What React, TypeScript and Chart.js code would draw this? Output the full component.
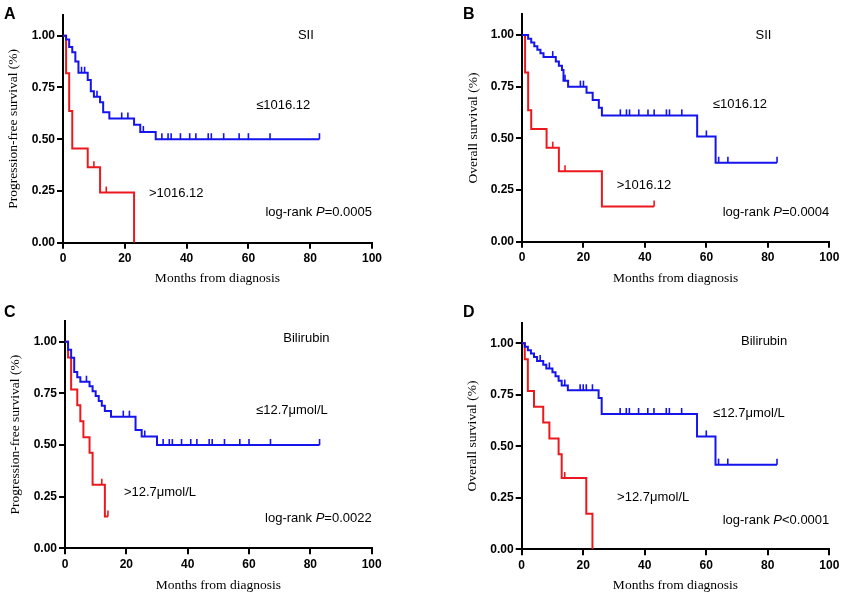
import { useEffect, useRef } from "react";
import { Chart, registerables } from "chart.js";

Chart.register(...registerables);

const xTicks = [0, 20, 40, 60, 80, 100];
const yTicks = [0, 0.25, 0.5, 0.75, 1.0];

// A: progression-free survival, SII
const pfsSiiLowTimes = [1, 2, 3, 4, 5, 8, 9, 10, 12, 13, 15, 23, 25, 30];
const pfsSiiLowSurv = [0.982, 0.946, 0.92, 0.875, 0.821, 0.786, 0.732, 0.705, 0.679, 0.63, 0.6, 0.57, 0.535, 0.5];
const pfsSiiLowCensored = [6, 7, 11, 19, 21, 26, 32, 34, 35, 38, 41, 43, 47, 48, 52, 57, 60, 67, 83];
const pfsSiiHighTimes = [1, 2, 3, 8, 12, 23];
const pfsSiiHighSurv = [0.818, 0.636, 0.455, 0.364, 0.242, 0];
const pfsSiiHighCensored = [10, 14];

// B: overall survival, SII
const osSiiLowTimes = [2, 3, 4, 5, 6, 7, 11, 12, 13, 13.5, 15, 21, 23, 25, 26, 57, 63];
const osSiiLowSurv = [0.982, 0.964, 0.946, 0.929, 0.911, 0.893, 0.872, 0.851, 0.83, 0.778, 0.75, 0.72, 0.685, 0.648, 0.611, 0.509, 0.382];
const osSiiLowCensored = [10, 14, 19, 20, 32, 34, 35, 38, 41, 43, 47, 48, 52, 60, 64, 67, 83];
const osSiiHighTimes = [1, 2, 3, 8, 12, 26];
const osSiiHighSurv = [0.818, 0.636, 0.545, 0.455, 0.341, 0.17];
const osSiiHighCensored = [10, 14, 43];

// C: progression-free survival, bilirubin
const pfsBilLowTimes = [1, 2, 3, 4, 5, 8, 9, 10, 11, 12, 13, 15, 23, 25, 30];
const pfsBilLowSurv = [0.961, 0.922, 0.853, 0.828, 0.806, 0.784, 0.76, 0.737, 0.713, 0.69, 0.664, 0.637, 0.573, 0.541, 0.5];
const pfsBilLowCensored = [7, 19, 21, 26, 32, 34, 35, 38, 41, 43, 47, 48, 52, 57, 60, 67, 83];
const pfsBilHighTimes = [1, 2, 4, 5, 6, 8, 9, 13];
const pfsBilHighSurv = [0.923, 0.769, 0.692, 0.615, 0.538, 0.462, 0.308, 0.154];
const pfsBilHighCensored = [12, 14];

// D: overall survival, bilirubin
const osBilLowTimes = [1, 2, 3, 4, 5, 7, 8, 10, 11, 12, 13, 15, 25, 26, 57, 63];
const osBilLowSurv = [0.983, 0.966, 0.95, 0.933, 0.914, 0.896, 0.878, 0.86, 0.84, 0.818, 0.795, 0.772, 0.734, 0.657, 0.548, 0.411];
const osBilLowCensored = [6, 9, 14, 19, 20, 21, 23, 32, 34, 35, 38, 41, 43, 47, 48, 52, 60, 64, 67, 83];
const osBilHighTimes = [1, 2, 4, 7, 9, 12, 13, 21, 23];
const osBilHighSurv = [0.923, 0.769, 0.692, 0.615, 0.538, 0.462, 0.346, 0.173, 0];
const osBilHighCensored = [14];

const pValues = ["=0.0005", "=0.0004", "=0.0022", "<0.0001"];

const BLUE = "rgb(20,20,235)";
const RED = "rgb(235,25,30)";
const SANS = "'Liberation Sans', Arial, sans-serif";
const SERIF = "'Liberation Serif', 'Times New Roman', serif";

type Curve = { times: number[]; surv: number[]; censored: number[]; end: number; color: string };
type Note = { text: string; x: number; y: number; align: CanvasTextAlign; p?: string };
type Panel = {
  letter: string;
  yTitle: string;
  curves: Curve[];
  notes: Note[];
  left: number;
  top: number;
  w: number;
  h: number;
  pad: { left: number; right: number; top: number; bottom: number };
  yWidth: number;
  xHeight: number;
};

function survivalAt(c: Curve, t: number) {
  let s = 1;
  c.times.forEach((tt, i) => {
    if (tt <= t) s = c.surv[i];
  });
  return s;
}

function curvePoints(c: Curve) {
  const pts = [{ x: 0, y: 1 }, ...c.times.map((t, i) => ({ x: t, y: c.surv[i] }))];
  const last = pts[pts.length - 1];
  if (c.end > last.x) pts.push({ x: c.end, y: last.y });
  return pts;
}

const panels: Panel[] = [
  {
    letter: "A",
    yTitle: "Progression-free survival (%)",
    curves: [
      { times: pfsSiiLowTimes, surv: pfsSiiLowSurv, censored: pfsSiiLowCensored, end: 83, color: BLUE },
      { times: pfsSiiHighTimes, surv: pfsSiiHighSurv, censored: pfsSiiHighCensored, end: 23, color: RED }
    ],
    notes: [
      { text: "SII", x: 78.6, y: 1.0, align: "center" },
      { text: "≤1016.12", x: 62.5, y: 0.665, align: "left" },
      { text: ">1016.12", x: 27.8, y: 0.24, align: "left" },
      { text: "log-rank ", x: 100, y: 0.148, align: "right", p: pValues[0] }
    ],
    left: 0, top: 0, w: 421, h: 300,
    pad: { left: 4.9, right: 49, top: 15, bottom: 13.9 },
    yWidth: 58.1, xHeight: 43.4
  },
  {
    letter: "B",
    yTitle: "Overall survival (%)",
    curves: [
      { times: osSiiLowTimes, surv: osSiiLowSurv, censored: osSiiLowCensored, end: 83, color: BLUE },
      { times: osSiiHighTimes, surv: osSiiHighSurv, censored: osSiiHighCensored, end: 43, color: RED }
    ],
    notes: [
      { text: "SII", x: 78.6, y: 1.0, align: "center" },
      { text: "≤1016.12", x: 62.1, y: 0.666, align: "left" },
      { text: ">1016.12", x: 30.8, y: 0.27, align: "left" },
      { text: "log-rank ", x: 100, y: 0.144, align: "right", p: pValues[1] }
    ],
    left: 421, top: 0, w: 422, h: 300,
    pad: { left: 43.9, right: 13.7, top: 14.3, bottom: 13.9 },
    yWidth: 57.1, xHeight: 44.4
  },
  {
    letter: "C",
    yTitle: "Progression-free survival (%)",
    curves: [
      { times: pfsBilLowTimes, surv: pfsBilLowSurv, censored: pfsBilLowCensored, end: 83, color: BLUE },
      { times: pfsBilHighTimes, surv: pfsBilHighSurv, censored: pfsBilHighCensored, end: 14, color: RED }
    ],
    notes: [
      { text: "Bilirubin", x: 78.7, y: 1.018, align: "center" },
      { text: "≤12.7μmol/L", x: 62.3, y: 0.668, align: "left" },
      { text: ">12.7μmol/L", x: 19.2, y: 0.268, align: "left" },
      { text: "log-rank ", x: 100, y: 0.147, align: "right", p: pValues[2] }
    ],
    left: 0, top: 300, w: 421, h: 300,
    pad: { left: 6.9, right: 49.3, top: 21, bottom: 6.9 },
    yWidth: 58.1, xHeight: 44.8
  },
  {
    letter: "D",
    yTitle: "Overall survival (%)",
    curves: [
      { times: osBilLowTimes, surv: osBilLowSurv, censored: osBilLowCensored, end: 83, color: BLUE },
      { times: osBilHighTimes, surv: osBilHighSurv, censored: osBilHighCensored, end: 23, color: RED }
    ],
    notes: [
      { text: "Bilirubin", x: 78.8, y: 1.01, align: "center" },
      { text: "≤12.7μmol/L", x: 62.2, y: 0.662, align: "left" },
      { text: ">12.7μmol/L", x: 31, y: 0.254, align: "left" },
      { text: "log-rank ", x: 100, y: 0.14, align: "right", p: pValues[3] }
    ],
    left: 421, top: 300, w: 422, h: 300,
    pad: { left: 42.9, right: 13.7, top: 22.7, bottom: 6.9 },
    yWidth: 57.8, xHeight: 43.8
  }
];

function KmPanel({ panel }: { panel: Panel }) {
  const canvasRef = useRef<HTMLCanvasElement>(null);

  useEffect(() => {
    if (!canvasRef.current) return;

    // censor marks, annotations and the panel letter
    const extras = {
      id: "kmExtras",
      afterDatasetsDraw(chart: Chart) {
        const { ctx } = chart;
        const xs = chart.scales.x;
        const ys = chart.scales.y;
        ctx.save();
        panel.curves.forEach(c => {
          ctx.strokeStyle = c.color;
          ctx.lineWidth = 1.6;
          c.censored.forEach(t => {
            const px = xs.getPixelForValue(t);
            const py = ys.getPixelForValue(survivalAt(c, t));
            ctx.beginPath();
            ctx.moveTo(px, py);
            ctx.lineTo(px, py - 6);
            ctx.stroke();
          });
        });

        ctx.fillStyle = "#000";
        ctx.textBaseline = "middle";
        panel.notes.forEach(n => {
          const px = xs.getPixelForValue(n.x);
          const py = ys.getPixelForValue(n.y);
          if (n.p) {
            const normal = `13px ${SANS}`;
            const italic = `italic 13px ${SANS}`;
            ctx.font = normal;
            const w1 = ctx.measureText(n.text).width;
            const w3 = ctx.measureText(n.p).width;
            ctx.font = italic;
            const w2 = ctx.measureText("P").width;
            let x0 = px - (w1 + w2 + w3);
            ctx.textAlign = "left";
            ctx.font = normal;
            ctx.fillText(n.text, x0, py);
            x0 += w1;
            ctx.font = italic;
            ctx.fillText("P", x0, py);
            x0 += w2;
            ctx.font = normal;
            ctx.fillText(n.p, x0, py);
          } else {
            ctx.font = `13px ${SANS}`;
            ctx.textAlign = n.align;
            ctx.fillText(n.text, px, py);
          }
        });

        ctx.font = `bold 16px ${SANS}`;
        ctx.textAlign = "left";
        ctx.fillText(panel.letter, panel.left === 0 ? 4 : 42, panel.top === 0 ? 15 : 13);
        ctx.restore();
      }
    };

    const chart = new Chart(canvasRef.current, {
      type: "scatter",
      data: {
        datasets: panel.curves.map(c => ({
          data: curvePoints(c),
          showLine: true,
          stepped: true,
          borderColor: c.color,
          backgroundColor: c.color,
          borderWidth: 2,
          pointRadius: 0,
          pointHoverRadius: 0
        }))
      },
      options: {
        animation: false,
        responsive: false,
        events: [],
        layout: { autoPadding: false, padding: panel.pad },
        plugins: { legend: { display: false }, tooltip: { enabled: false } },
        scales: {
          x: {
            type: "linear",
            min: 0,
            max: 100,
            afterBuildTicks: axis => {
              axis.ticks = xTicks.map(v => ({ value: v }));
            },
            afterFit: axis => {
              axis.height = panel.xHeight;
            },
            grid: { drawOnChartArea: false, drawTicks: true, tickLength: 6, color: "#000", lineWidth: 2 },
            border: { display: true, color: "#000", width: 2 },
            ticks: {
              color: "#000",
              padding: 3,
              maxRotation: 0,
              autoSkip: false,
              font: { family: SANS, size: 12, weight: "bold" }
            },
            title: {
              display: true,
              text: "Months from diagnosis",
              color: "#000",
              padding: 0,
              font: { family: SERIF, size: 13.5 }
            }
          },
          y: {
            type: "linear",
            min: 0,
            max: 1.1,
            afterBuildTicks: axis => {
              axis.ticks = yTicks.map(v => ({ value: v }));
            },
            afterFit: axis => {
              axis.width = panel.yWidth;
            },
            grid: { drawOnChartArea: false, drawTicks: true, tickLength: 6, color: "#000", lineWidth: 2 },
            border: { display: true, color: "#000", width: 2 },
            ticks: {
              color: "#000",
              padding: 2,
              callback: v => Number(v).toFixed(2),
              font: { family: SANS, size: 12, weight: "bold" }
            },
            title: {
              display: true,
              text: panel.yTitle,
              color: "#000",
              padding: 0,
              font: { family: SERIF, size: 13.5 }
            }
          }
        }
      },
      plugins: [extras]
    });

    return () => {
      chart.destroy();
    };
  }, [panel]);

  return (
    <canvas
      ref={canvasRef}
      width={panel.w}
      height={panel.h}
      style={{ position: "absolute", left: panel.left, top: panel.top, width: panel.w, height: panel.h }}
    />
  );
}

export default function App() {
  return (
    <div style={{ position: "absolute", left: 0, top: 0, width: 843, height: 600, background: "#fff" }}>
      {panels.map(p => (
        <KmPanel key={p.letter} panel={p} />
      ))}
    </div>
  );
}
